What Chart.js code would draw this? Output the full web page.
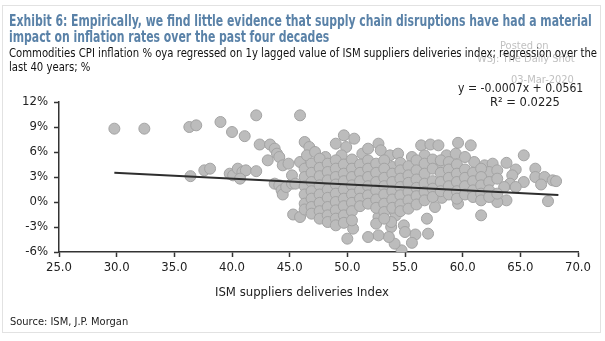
<!DOCTYPE html>
<html>
<head>
<meta charset="utf-8">
<script src="https://cdn.jsdelivr.net/npm/chart.js@4.4.1/dist/chart.umd.min.js"></script>
<style>
  html, body { margin: 0; padding: 0; background: #fff; }
  body { width: 605px; height: 341px; position: relative; overflow: hidden;
         font-family: "Liberation Sans Narrow", "Arial Narrow", "DejaVu Sans Condensed", "Liberation Sans", sans-serif; }
  .frame { position: absolute; left: 2px; top: 5px; width: 599px; height: 328px; border: 1px solid #e2e2e2; box-sizing: border-box; }
  .txt { position: absolute; white-space: nowrap; transform-origin: 0 0; }
  .title { color: #5a82a8; font-weight: bold; font-size: 16px; line-height: 16px; }
  .sub { color: #111; font-size: 13px; line-height: 14px; }
  .eq { color: #222; font-size: 13px; line-height: 14px; }
  .wm { color: rgba(140,140,140,0.55); font-size: 11px; line-height: 12px; }
  .axis-title { color: #222; font-size: 13px; }
  .source { color: #222; font-size: 11px; }
  #wrap { position: absolute; left: 0; top: 0; width: 605px; height: 341px; }
</style>
</head>
<body>
<div class="frame"></div>
<div id="wrap"><canvas id="scatterChart"></canvas></div>

<div class="txt title" id="t1" data-w="583" style="left:9px; top:13px;">Exhibit 6: Empirically, we find little evidence that supply chain disruptions have had a material</div>
<div class="txt title" id="t2" style="left:9px; top:29px;">impact on inflation rates over the past four decades</div>
<div class="txt sub" id="s1" data-w="588" style="left:9px; top:46px;">Commodities CPI inflation % oya regressed on 1y lagged value of ISM suppliers deliveries index; regression over the</div>
<div class="txt sub" id="s2" style="left:9px; top:60px;">last 40 years; %</div>

<div class="txt wm" style="left:500px; top:40px;">Posted on</div>
<div class="txt wm" style="left:477px; top:53px;">WSJ: The Daily Shot</div>
<div class="txt wm" style="left:511px; top:74px;">03-Mar-2020</div>

<div class="txt eq" id="eq" data-w="125" style="left:458px; top:81px;">y = -0.0007x + 0.0561</div>
<div class="txt eq" id="r2" data-w="70" style="left:490px; top:95px;">R² = 0.0225</div>

<div class="txt axis-title" id="xt" style="left:215px; top:284px;">ISM suppliers deliveries Index</div>
<div class="txt source" style="left:10px; top:315px;">Source: ISM, J.P. Morgan</div>

<script>
// Données : indice ISM (x) et inflation CPI matières premières en % (y)
// points isolés à gauche
const ismSparse = [29.8, 32.4, 36.3, 36.9, 39.0, 42.1, 45.9, 40.0, 41.1, 42.4, 43.3, 43.7, 43.9, 43.1, 44.1, 44.4, 44.9,
  36.4, 37.6, 38.1, 39.8, 40.1, 40.5, 40.9, 41.2, 42.1, 40.7, 43.7, 44.1, 44.3, 44.4, 44.7, 45.2, 45.2, 45.5, 45.3, 45.9, 45.9];
const cpiSparse = [8.8, 8.8, 9.0, 9.2, 9.6, 10.4, 10.4, 8.4, 7.9, 6.9, 6.9, 6.4, 5.8, 5.0, 5.4, 4.4, 4.6,
  3.1, 3.8, 4.0, 3.4, 3.2, 4.0, 3.6, 3.8, 3.7, 2.8, 2.2, 2.0, 1.4, 0.9, 1.8, 2.2, 3.2, 2.2, -1.5, -1.8, 4.8];

// bord du nuage
const ismEdge = [46.3, 46.7, 46.5, 47.2, 48.1, 47.5, 49.0, 49.7, 50.6, 49.9, 49.5, 51.3, 51.8, 52.7, 52.9, 53.7, 54.4,
  55.6, 56.4, 57.2, 57.9, 56.7, 58.6, 59.4, 59.6, 60.7, 61.0, 57.2, 58.2, 56.3, 53.9, 61.9, 62.6, 63.8, 65.3, 64.6,
  64.3, 66.3, 66.3, 67.1, 67.8, 68.1, 66.8, 65.3, 62.6, 62.3, 64.1, 63.6, 64.6, 63.8, 63.0, 67.4, 61.6, 59.6, 58.2,
  57.6, 56.9, 57.0, 55.9, 55.6, 54.7, 54.1, 54.9, 54.2, 53.8, 53.6, 52.7, 51.8, 50.0, 52.7, 50.5, 55.0, 53.8];
const cpiEdge = [7.2, 6.6, 5.6, 6.0, 5.4, 4.8, 7.0, 8.0, 7.6, 6.6, 5.6, 5.8, 6.4, 7.0, 6.2, 5.6, 5.8,
  5.4, 6.8, 6.9, 6.8, 5.6, 5.6, 5.8, 7.1, 6.8, 4.8, 4.6, 4.4, 4.4, 4.2, 4.4, 4.6, 4.7, 5.6, 3.9,
  3.2, 4.0, 3.0, 3.0, 2.6, 2.5, 2.1, 2.4, 3.0, 3.6, 2.2, 1.8, 1.8, 0.2, 0.0, 0.1, -1.6, -0.2, 0.5,
  -0.6, -2.0, -3.8, -3.9, -4.9, -5.8, -5.0, -2.8, -1.6, -3.0, -4.2, -4.0, -4.2, -4.4, -1.8, -3.2, -3.6, -2.4];

// coeur dense du nuage
const ismCore = [46.3, 46.3, 46.3, 46.3, 46.3, 46.3,
  46.9, 46.9, 46.9, 46.9, 46.9, 46.9, 46.9,
  47.6, 47.6, 47.6, 47.6, 47.6, 47.6, 47.6, 47.6,
  48.3, 48.3, 48.3, 48.3, 48.3, 48.3, 48.3, 48.3,
  49.0, 49.0, 49.0, 49.0, 49.0, 49.0, 49.0, 49.0, 49.0,
  49.7, 49.7, 49.7, 49.7, 49.7, 49.7, 49.7, 49.7,
  50.4, 50.4, 50.4, 50.4, 50.4, 50.4, 50.4, 50.4,
  51.1, 51.1, 51.1, 51.1, 51.1, 51.1,
  51.8, 51.8, 51.8, 51.8, 51.8, 51.8,
  52.5, 52.5, 52.5, 52.5, 52.5, 52.5, 52.5,
  53.2, 53.2, 53.2, 53.2, 53.2, 53.2, 53.2, 53.2,
  53.9, 53.9, 53.9, 53.9, 53.9,
  54.6, 54.6, 54.6, 54.6, 54.6, 54.6, 54.6,
  55.3, 55.3, 55.3, 55.3, 55.3, 55.3,
  56.0, 56.0, 56.0, 56.0, 56.0, 56.0,
  56.7, 56.7, 56.7, 56.7, 56.7,
  57.4, 57.4, 57.4, 57.4, 57.4,
  58.1, 58.1, 58.1, 58.1,
  58.8, 58.8, 58.8, 58.8, 58.8,
  59.5, 59.5, 59.5, 59.5, 59.5,
  60.2, 60.2, 60.2, 60.2, 60.2,
  60.9, 60.9, 60.9, 60.9,
  61.6, 61.6, 61.6, 61.6, 61.6,
  62.3, 62.3, 62.3,
  63.0, 63.0, 63.0];
const cpiCore = [4.0, 3.0, 1.9, 0.9, -0.2, -0.9,
  4.6, 3.5, 2.4, 1.3, 0.4, -0.6, -1.4,
  5.2, 4.1, 3.1, 2.0, 0.9, -0.1, -1.1, -2.0,
  4.6, 3.6, 2.6, 1.5, 0.5, -0.6, -1.6, -2.4,
  5.0, 4.0, 3.0, 2.1, 1.0, 0.0, -1.0, -2.0, -2.8,
  4.5, 3.4, 2.5, 1.5, 0.4, -0.5, -1.6, -2.5,
  5.1, 4.0, 3.0, 2.0, 0.9, -0.1, -1.1, -2.2,
  4.5, 3.5, 2.5, 1.4, 0.4, -0.5,
  5.0, 4.0, 3.0, 1.9, 0.8, -0.2,
  4.6, 3.5, 2.4, 1.4, 0.3, -0.7, -2.6,
  5.0, 4.0, 2.9, 1.9, 0.9, -0.2, -1.2, -2.0,
  3.4, 2.4, 1.3, 0.3, -0.7,
  4.7, 3.8, 2.8, 1.8, 0.8, -0.3, -1.1,
  4.3, 3.2, 2.3, 1.2, 0.2, -0.8,
  5.0, 3.8, 2.7, 1.7, 0.7, -0.3,
  4.6, 3.4, 2.2, 1.2, 0.2,
  5.1, 4.0, 2.5, 1.6, 0.6,
  5.0, 3.5, 2.4, 1.3,
  4.8, 3.9, 2.9, 1.9, 0.9,
  4.5, 3.4, 2.4, 1.3, 0.4,
  5.4, 3.9, 2.9, 1.9, 0.9,
  3.5, 2.5, 1.4, 0.6,
  4.0, 3.0, 2.0, 1.0, 0.2,
  2.4, 1.4, 0.6,
  3.8, 2.8, 1.0];

// droite de régression (en fraction) : y = -0.0007x + 0.0561
const slope = -0.0007;
const intercept = 0.0561;
const fitRange = [29.8, 68.3];

const xTicks = [25, 30, 35, 40, 45, 50, 55, 60, 65, 70];
const yTicks = [-6, -3, 0, 3, 6, 9, 12];

function toPoints(xs, ys) {
  return xs.map((x, i) => ({ x: x, y: ys[i] }));
}

const scatterPoints = [
  ...toPoints(ismSparse, cpiSparse),
  ...toPoints(ismEdge, cpiEdge),
  ...toPoints(ismCore, cpiCore)
];
const fitPoints = fitRange.map(x => ({ x: x, y: (slope * x + intercept) * 100 }));

const tickFont = { family: '"Liberation Sans Narrow", "Arial Narrow", "DejaVu Sans Condensed", "Liberation Sans", sans-serif', size: 13 };

const ctx = document.getElementById('scatterChart').getContext('2d');
new Chart(ctx, {
  type: 'scatter',
  data: {
    datasets: [
      {
        type: 'line',
        data: fitPoints,
        borderColor: '#2e2e2e',
        borderWidth: 2,
        pointRadius: 0,
        fill: false,
        order: 0
      },
      {
        data: scatterPoints,
        backgroundColor: '#bcbcbc',
        borderColor: '#a3a3a3',
        borderWidth: 1,
        pointRadius: 5.5,
        order: 1
      }
    ]
  },
  options: {
    responsive: true,
    maintainAspectRatio: false,
    animation: false,
    layout: { padding: { top: 102, left: 0, right: 27, bottom: 64 } },
    plugins: { legend: { display: false }, tooltip: { enabled: false } },
    scales: {
      x: {
        type: 'linear',
        min: 25, max: 70,
        afterBuildTicks: axis => { axis.ticks = xTicks.map(v => ({ value: v })); },
        afterFit: axis => { axis.height = 25; },
        grid: { drawOnChartArea: false, drawTicks: true, tickLength: 5, color: '#333', tickWidth: 1.5 },
        border: { display: true, color: '#333', width: 1.5 },
        ticks: { color: '#222', font: tickFont, padding: 3, maxRotation: 0, callback: v => v.toFixed(1) }
      },
      y: {
        type: 'linear',
        min: -6, max: 12,
        afterBuildTicks: axis => { axis.ticks = yTicks.map(v => ({ value: v })); },
        afterFit: axis => { axis.width = 59; },
        grid: { drawOnChartArea: false, drawTicks: true, tickLength: 5, color: '#333', tickWidth: 1.5 },
        border: { display: true, color: '#333', width: 1.5 },
        ticks: { color: '#222', font: tickFont, padding: 6, callback: v => v + '%' }
      }
    }
  }
});

// ajuster la largeur des lignes de texte à celle de l'original
function fitWidth(id, followerId) {
  const el = document.getElementById(id);
  const target = parseFloat(el.dataset.w);
  const scale = target / el.scrollWidth;
  el.style.transform = 'scaleX(' + scale + ')';
  if (followerId) document.getElementById(followerId).style.transform = 'scaleX(' + scale + ')';
}
fitWidth('t1', 't2');
fitWidth('s1', 's2');
fitWidth('eq');
fitWidth('r2');
</script>
</body>
</html>
